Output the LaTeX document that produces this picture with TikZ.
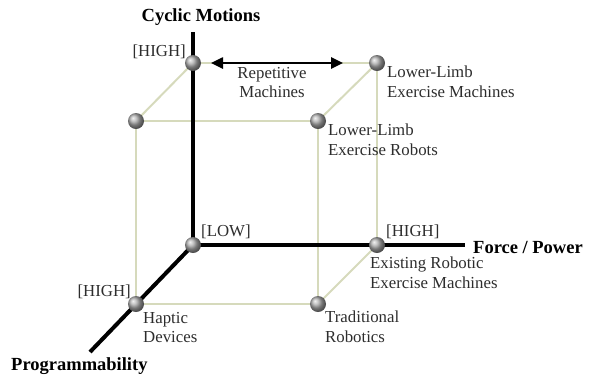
\documentclass[tikz,border=0pt]{standalone}
\usepackage{fontspec}
\setmainfont{Liberation Serif}
\usetikzlibrary{arrows.meta,backgrounds}
\definecolor{cubecol}{RGB}{214,218,188}
\definecolor{labcol}{RGB}{45,45,45}
\begin{document}
\begin{tikzpicture}[x=1pt,y=-1pt,
  ball/.style={circle,inner sep=0pt,minimum size=16pt,shading=ball,ball color=gray!65},
  cubeedge/.style={draw=cubecol,line width=2pt},
  axisline/.style={draw=black,line width=4pt},
  lab/.style={font=\fontsize{16.8}{19.3}\selectfont,align=left,inner sep=0pt,text=labcol},
  axlab/.style={font=\fontsize{18.5}{21}\selectfont\bfseries,inner sep=0pt,text=black}]
\useasboundingbox (0,0) rectangle (592,376);
% balls
\node[ball] (btl) at (193,63) {};
\node[ball] (btr) at (377,63) {};
\node[ball] (ftl) at (136,121) {};
\node[ball] (ftr) at (318,121) {};
\node[ball] (origin) at (193,245) {};
\node[ball] (bbr) at (377,245) {};
\node[ball] (fbl) at (136,304) {};
\node[ball] (fbr) at (318,304) {};
\coordinate (cyctop) at (193,32);
\coordinate (forceend) at (465,245);
\coordinate (progend) at (90,352);
\coordinate (arrL) at (211,63);
\coordinate (arrR) at (343,63);
\begin{scope}[on background layer]
  \draw[cubeedge] (btl.center) -- (btr.center);
  \draw[cubeedge] (btl.center) -- (ftl.center);
  \draw[cubeedge] (ftl.center) -- (ftr.center);
  \draw[cubeedge] (ftr.center) -- (btr.center);
  \draw[cubeedge] (btr.center) -- (bbr.center);
  \draw[cubeedge] (ftl.center) -- (fbl.center);
  \draw[cubeedge] (ftr.center) -- (fbr.center);
  \draw[cubeedge] (fbl.center) -- (fbr.center);
  \draw[cubeedge] (fbr.center) -- (bbr.center);
  \draw[axisline] (cyctop) -- (origin.center);
  \draw[axisline] (origin.center) -- (forceend);
  \draw[axisline] (origin.center) -- (progend);
\end{scope}
\draw[line width=2.5pt,{Triangle[length=12pt,width=11pt]}-{Triangle[length=12pt,width=11pt]}] (arrL) -- (arrR);
% axis labels
\node[axlab,anchor=base] (lcyc) at (201,21) {Cyclic Motions};
\node[axlab,anchor=base west] (lforce) at (473,253) {Force / Power};
\node[axlab,anchor=base west] (lprog) at (11,370) {Programmability};
% level labels
\node[lab,anchor=base east] (h1) at (186,56) {[HIGH]};
\node[lab,anchor=base west] (low) at (201,236) {[LOW]};
\node[lab,anchor=base west] (h2) at (386,236) {[HIGH]};
\node[lab,anchor=base east] (h3) at (131,296) {[HIGH]};
% item labels
\node[lab,anchor=north,align=center] (rep) at (272,67) {Repetitive\\Machines};
\node[lab,anchor=north west] (llm) at (387,66) {Lower-Limb\\Exercise Machines};
\node[lab,anchor=north west] (llr) at (328,124) {Lower-Limb\\Exercise Robots};
\node[lab,anchor=north west] (erm) at (370,257) {Existing Robotic\\Exercise Machines};
\node[lab,anchor=north west] (hap) at (143,312) {Haptic\\Devices};
\node[lab,anchor=north west] (trad) at (325,311) {Traditional\\Robotics};
\end{tikzpicture}
\end{document}
